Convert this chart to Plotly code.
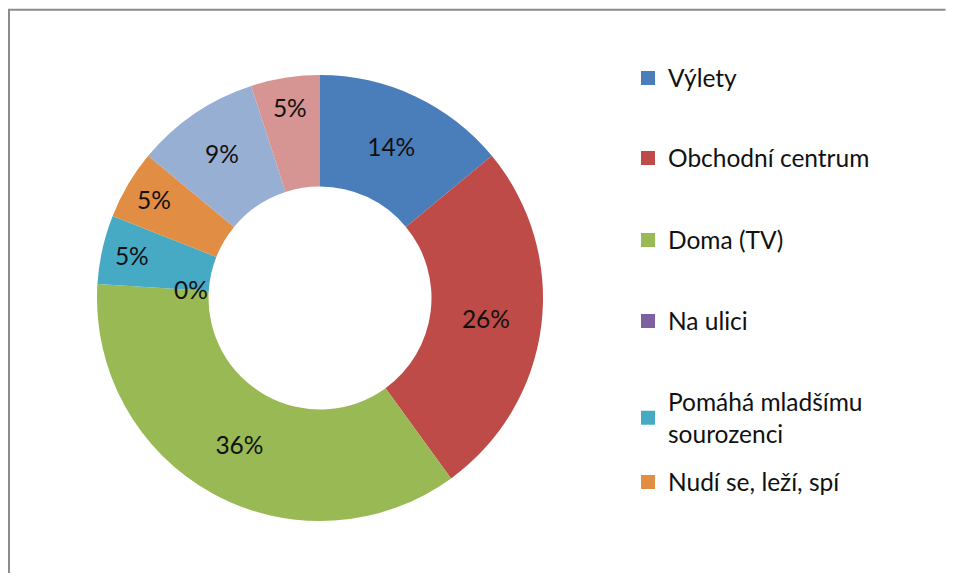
import math
import plotly.graph_objects as go

categories = ["Výlety", "Obchodní centrum", "Doma (TV)", "Na ulici",
              "Pomáhá mladšímu sourozenci", "Nudí se, leží, spí", "Jiné", "Ostatní"]
legend_labels = ["Výlety", "Obchodní centrum", "Doma (TV)", "Na ulici",
                 "Pomáhá mladšímu<br>sourozenci", "Nudí se, leží, spí"]
values = [14, 26, 36, 0, 5, 5, 9, 5]
colors = ["#4A7EBB", "#BE4B48", "#98B954", "#7D60A0",
          "#46AAC5", "#E28D44", "#98AFD4", "#D69593"]

# page body has an 8px margin; figure sits at (8, 8) in the window
W, H = 947, 565
FONT = "Lato"
FS = 24.5

# pie placement (figure pixels)
CX, CY, R = 312, 290, 223
dom_x = [(CX - R) / W, (CX + R) / W]
dom_y = [1 - (CY + R) / H, 1 - (CY - R) / H]

fig = go.Figure()
fig.add_trace(go.Pie(
    labels=categories, values=values, sort=False, direction="clockwise",
    rotation=0, hole=0.5,
    marker=dict(colors=colors, line=dict(width=0)),
    texttemplate="%{percent:.0%}", textposition="inside",
    insidetextorientation="horizontal",
    textfont=dict(family=FONT, size=FS, color="#111111"),
    domain=dict(x=dom_x, y=dom_y),
    showlegend=False,
))

# labels for zero-valued slices (Plotly does not draw them): place at slice boundary
total = sum(values)
cum = 0
for v in values:
    if v == 0:
        theta = 2 * math.pi * cum / total
        rr = 0.58 * R
        px = CX + rr * math.sin(theta)
        py = CY - rr * math.cos(theta)
        fig.add_annotation(x=px / W, y=1 - py / H, xref="paper", yref="paper",
                           xanchor="center", yanchor="middle",
                           text=f"{v / total:.0%}", showarrow=False,
                           font=dict(family=FONT, size=FS, color="#111111"))
    cum += v

# legend entries (one legend per entry so they can be spaced like the original)
legend_tops = [47.5, 127.5, 209.5, 290.5, 371.5, 451.5]
layout_legends = {}
for i, lab in enumerate(legend_labels):
    key = "legend" if i == 0 else f"legend{i+1}"
    fig.add_trace(go.Scatter(
        x=[None], y=[None], mode="markers", name=lab,
        marker=dict(symbol="square", size=14, color=colors[i]),
        legend=key, showlegend=True,
    ))
    layout_legends[key] = dict(
        x=620 / W, xanchor="left", y=1 - legend_tops[i] / H, yanchor="top",
        font=dict(family=FONT, size=FS, color="#111111"),
        bgcolor="rgba(0,0,0,0)", borderwidth=0,
    )

fig.update_layout(
    width=W, height=H,
    margin=dict(l=0, r=0, t=0, b=0),
    paper_bgcolor="white", plot_bgcolor="white",
    xaxis=dict(visible=False), yaxis=dict(visible=False),
    shapes=[
        dict(type="line", xref="paper", yref="paper", x0=0, x1=0.99, y0=1 - 1.8 / H, y1=1 - 1.8 / H,
             line=dict(color="#8C8C8C", width=2)),
        dict(type="line", xref="paper", yref="paper", x0=1 / W, x1=1 / W, y0=0, y1=1 - 1 / H,
             line=dict(color="#8C8C8C", width=2)),
    ],
    **layout_legends,
)

fig.write_html("out.html", config={"displayModeBar": False})
